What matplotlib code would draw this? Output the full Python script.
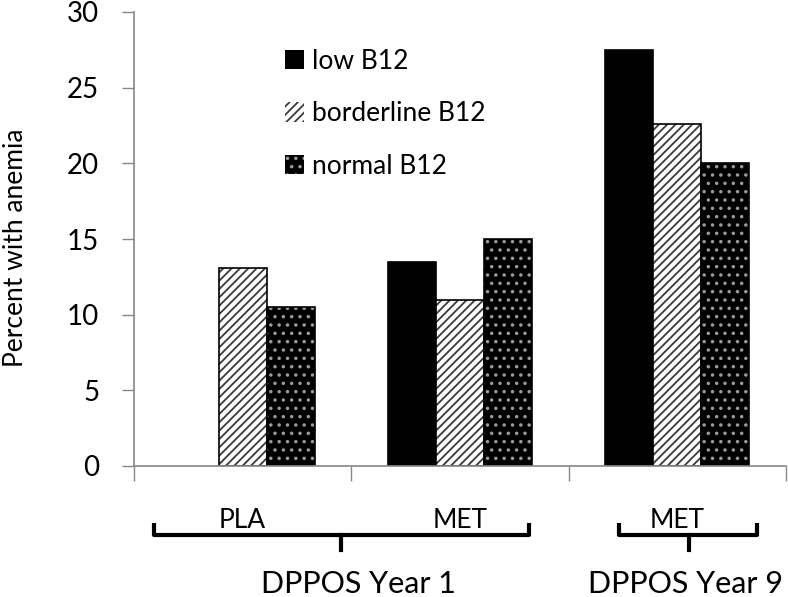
import matplotlib
matplotlib.use("Agg")
import matplotlib.pyplot as plt
import matplotlib.transforms as mtransforms
import numpy as np

plt.rcParams["font.family"] = ["Lato", "DejaVu Sans"]
plt.rcParams["hatch.linewidth"] = 1.3

# data
groups = ["PLA", "MET", "MET"]
series = ["low B12", "borderline B12", "normal B12"]
low_b12 = [np.nan, 13.5, 27.5]
borderline_b12 = [13.1, 11.0, 22.6]
normal_b12 = [10.5, 15.0, 20.0]
periods = ["DPPOS Year 1", "DPPOS Year 9"]

W, H = 788, 597
fig = plt.figure(figsize=(W / 100, H / 100), dpi=100)
ax = fig.add_axes([134 / W, 1 - 466 / H, (786 - 134) / W, (466 - 12) / H])

x = np.arange(len(groups))
bw = 0.221
styles = [
    dict(color="black", hatch=None, hcol="black"),
    dict(color="white", hatch="////", hcol="#3a3a3a"),
    dict(color="black", hatch="..", hcol="#9a9a9a"),
]
for i, (vals, st, lab) in enumerate(zip([low_b12, borderline_b12, normal_b12], styles, series)):
    xs = x + (i - 1) * bw
    v = np.array(vals, dtype=float)
    ok = ~np.isnan(v)
    ax.bar(xs[ok], v[ok], bw, facecolor=st["color"], edgecolor=st["hcol"],
           hatch=st["hatch"], linewidth=0, label=lab)
    ax.bar(xs[ok], v[ok], bw, fill=False, edgecolor="black", linewidth=1.2)

ax.set_xlim(-0.5, 2.5)
ax.set_ylim(0, 30)
ax.set_yticks(np.arange(0, 31, 5))
ax.tick_params(axis="y", length=9, width=1, color="#888888", pad=16, labelsize=20)
ax.set_xticks(x)
ax.set_xticklabels(groups, fontsize=19)
ax.tick_params(axis="x", length=0, pad=30)
ax.set_xticks(np.arange(-0.5, 2.6, 1), minor=True)
ax.tick_params(axis="x", which="minor", length=11, width=1, color="#888888")
for s in ["top", "right"]:
    ax.spines[s].set_visible(False)
for s in ["left", "bottom"]:
    ax.spines[s].set_color("#888888")
    ax.spines[s].set_linewidth(1.2)

ax.set_ylabel("Percent with anemia", fontsize=19)
ax.yaxis.set_label_coords(-0.162, 0.48)

leg = ax.legend(loc="upper left", bbox_to_anchor=((274 - 134) / 652, (466 - 38) / 454),
                frameon=False, fontsize=19, handlelength=0.75, handleheight=0.75,
                handletextpad=0.3, labelspacing=1.05, borderaxespad=0)

# brackets under the category labels
tr = mtransforms.blended_transform_factory(ax.transData, fig.transFigure)
def fy(px):
    return 1 - px / H

brackets = [(-0.408, 0.454, 1.316, 0.532), (1.730, 2.053, 2.366, 2.039)]
for (xl, xc, xr, xt), name in zip(brackets, periods):
    ax.plot([xl, xl, xr, xr], [fy(523), fy(535), fy(535), fy(523)], color="black",
            lw=3, transform=tr, clip_on=False, solid_joinstyle="round", solid_capstyle="butt")
    ax.plot([xc, xc], [fy(535), fy(550)], color="black", lw=3, transform=tr, clip_on=False)
    ax.text(xt, fy(584), name, transform=tr, ha="center", va="center", fontsize=22)

fig.savefig("out.png", dpi=100)
